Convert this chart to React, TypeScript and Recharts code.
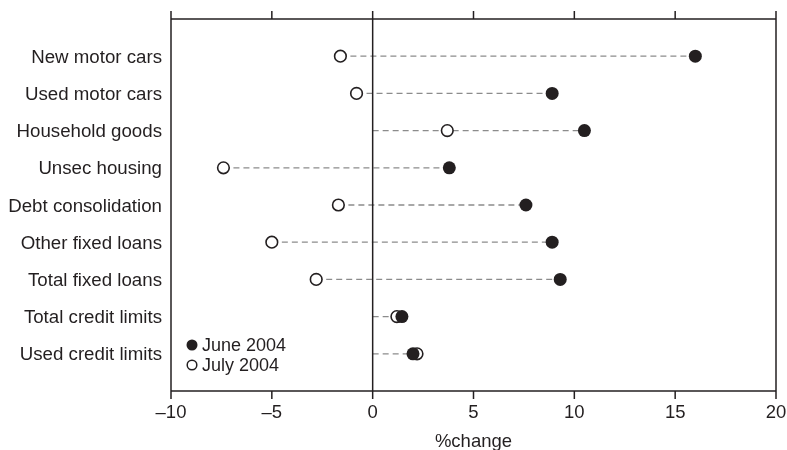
import { ScatterChart, Scatter, XAxis, YAxis, ReferenceLine } from "recharts";

const categories = [
  "New motor cars",
  "Used motor cars",
  "Household goods",
  "Unsec housing",
  "Debt consolidation",
  "Other fixed loans",
  "Total fixed loans",
  "Total credit limits",
  "Used credit limits",
];
const june2004 = [16.0, 8.9, 10.5, 3.8, 7.6, 8.9, 9.3, 1.45, 2.0];
const july2004 = [-1.6, -0.8, 3.7, -7.4, -1.7, -5.0, -2.8, 1.2, 2.2];
const xTicks = [-10, -5, 0, 5, 10, 15, 20];

const FONT = "'Liberation Sans', Arial, sans-serif";
const INK = "#231f20";

const juneData = categories.map((name, i) => ({ x: june2004[i], y: i + 1, name }));
const julyData = categories.map((name, i) => ({ x: july2004[i], y: i + 1, name }));

const fmtX = (v: number) => (v < 0 ? "\u2013" + Math.abs(v) : String(v));
const fmtY = (v: number) => categories[v - 1] ?? "";

function FilledDot(props: any) {
  const { cx, cy } = props;
  return <circle cx={cx} cy={cy} r={6.5} fill={INK} />;
}

function OpenDot(props: any) {
  const { cx, cy } = props;
  return <circle cx={cx} cy={cy} r={5.8} fill="#fff" stroke={INK} strokeWidth={1.6} />;
}

// empty shape: used for top-axis tick labels and the helper series
const Nothing = () => <g />;

function LegendBox() {
  const row = { display: "flex", alignItems: "center", height: 20 } as const;
  return (
    <div
      style={{
        position: "absolute",
        left: 185,
        top: 335,
        fontFamily: FONT,
        fontSize: 18,
        color: INK,
        lineHeight: 1,
      }}
    >
      <div style={row}>
        <svg width={14} height={14} style={{ marginRight: 3 }}>
          <circle cx={7} cy={7} r={5.5} fill={INK} />
        </svg>
        June 2004
      </div>
      <div style={row}>
        <svg width={14} height={14} style={{ marginRight: 3 }}>
          <circle cx={7} cy={7} r={4.8} fill="#fff" stroke={INK} strokeWidth={1.5} />
        </svg>
        July 2004
      </div>
    </div>
  );
}

export default function App() {
  return (
    <div style={{ position: "fixed", left: 0, top: 0, width: 787, height: 450 }}>
      <ScatterChart width={787} height={450} margin={{ top: 18, right: 10, bottom: 0, left: 0 }}>
        <XAxis
          xAxisId="bottom"
          type="number"
          dataKey="x"
          domain={[-10, 20]}
          ticks={xTicks}
          tickFormatter={fmtX}
          orientation="bottom"
          height={59}
          tickSize={8}
          tickMargin={6}
          stroke={INK}
          strokeWidth={1.5}
          tick={{ fill: INK, fontSize: 18.5, fontFamily: FONT }}
          label={{ value: "%change", position: "insideBottom", offset: 3, fill: INK, fontSize: 18.5, fontFamily: FONT }}
        />
        <XAxis
          xAxisId="top"
          type="number"
          dataKey="x"
          domain={[-10, 20]}
          ticks={xTicks}
          orientation="top"
          height={1}
          tickSize={8}
          tick={Nothing}
          stroke={INK}
          strokeWidth={1.5}
        />
        <YAxis
          yAxisId="left"
          type="number"
          dataKey="y"
          domain={[0, 10]}
          reversed
          ticks={[1, 2, 3, 4, 5, 6, 7, 8, 9]}
          tickFormatter={fmtY}
          width={171}
          tickSize={0}
          tickMargin={9}
          tickLine={false}
          stroke={INK}
          strokeWidth={1.5}
          interval={0}
          tick={{ fill: INK, fontSize: 18.7, fontFamily: FONT }}
        />
        <YAxis
          yAxisId="right"
          orientation="right"
          type="number"
          dataKey="y"
          domain={[0, 10]}
          reversed
          width={1}
          tick={false}
          tickLine={false}
          stroke={INK}
          strokeWidth={1.5}
        />
        {categories.map((name, i) => (
          <ReferenceLine
            key={name}
            xAxisId="bottom"
            yAxisId="left"
            segment={[
              { x: Math.min(0, june2004[i], july2004[i]), y: i + 1 },
              { x: Math.max(0, june2004[i], july2004[i]), y: i + 1 },
            ]}
            stroke="#8c8c8c"
            strokeWidth={1.3}
            strokeDasharray="6 4"
          />
        ))}
        <ReferenceLine xAxisId="bottom" yAxisId="left" x={0} stroke={INK} strokeWidth={1.5} />
        {/* invisible series so the top axis gets its ticks */}
        <Scatter
          data={juneData}
          xAxisId="top"
          yAxisId="right"
          shape={Nothing}
          legendType="none"
          isAnimationActive={false}
        />
        <Scatter
          name="July 2004"
          data={julyData}
          xAxisId="bottom"
          yAxisId="left"
          shape={OpenDot}
          isAnimationActive={false}
        />
        <Scatter
          name="June 2004"
          data={juneData}
          xAxisId="bottom"
          yAxisId="left"
          shape={FilledDot}
          isAnimationActive={false}
        />
      </ScatterChart>
      <LegendBox />
    </div>
  );
}
